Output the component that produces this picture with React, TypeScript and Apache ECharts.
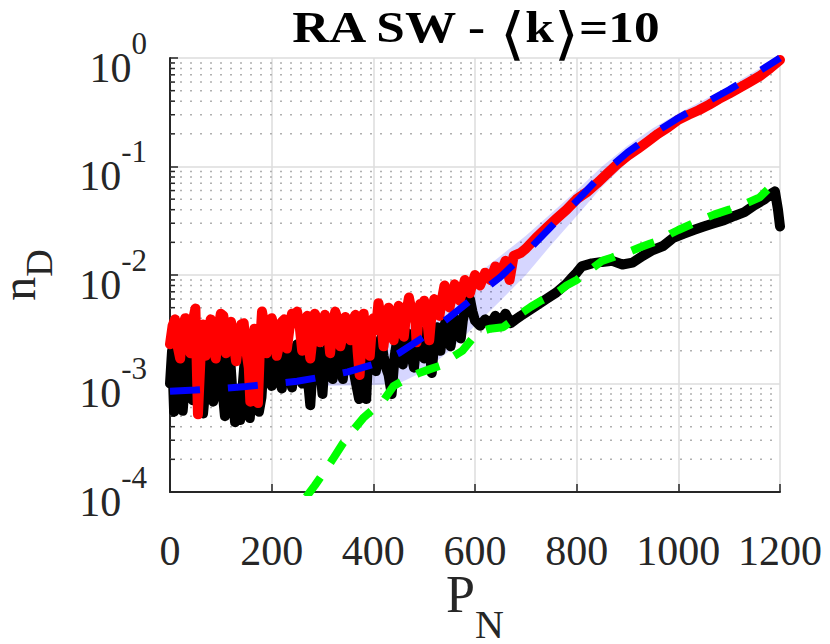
import React, { useEffect, useRef } from "react";
import * as echarts from "echarts";

// ---------- axis settings ----------
const X_MIN = 0;
const X_MAX = 1200;
const X_INTERVAL = 200;
const Y_MIN = 1e-4;
const Y_MAX = 1;

// minor log levels (2..9 x 10^k) for dotted grid lines and minor ticks
const minorLevels = [
  2e-4, 3e-4, 4e-4, 5e-4, 6e-4, 7e-4, 8e-4, 9e-4,
  2e-3, 3e-3, 4e-3, 5e-3, 6e-3, 7e-3, 8e-3, 9e-3,
  2e-2, 3e-2, 4e-2, 5e-2, 6e-2, 7e-2, 8e-2, 9e-2,
  2e-1, 3e-1, 4e-1, 5e-1, 6e-1, 7e-1, 8e-1, 9e-1,
];

// ---------- data ----------
const redSeries: [number, number][] = [
  [0, 2.3e-3], [5, 3.4e-3], [10, 3.9e-3], [15, 2.2e-3], [20, 1.7e-3], [25, 3.3e-3],
  [30, 4.0e-3], [35, 2.6e-3], [40, 1.9e-3], [45, 3.8e-3], [50, 4.9e-3], [55, 5.2e-4],
  [60, 1.7e-3], [65, 3.5e-3], [70, 1.8e-3], [75, 2.5e-3], [80, 3.9e-3], [85, 2.2e-3],
  [90, 1.7e-3], [95, 3.2e-3], [100, 4.4e-3], [105, 4.2e-3], [110, 1.9e-3], [115, 3.0e-3],
  [120, 3.7e-3], [125, 2.4e-3], [130, 1.6e-3], [135, 2.4e-3], [140, 3.5e-3], [145, 3.6e-3],
  [150, 2.0e-3], [155, 1.4e-3], [158, 6.8e-4], [162, 2.0e-3], [166, 3.2e-3], [170, 1.2e-3],
  [173, 6.6e-4], [177, 2.2e-3], [181, 4.6e-3], [185, 3.6e-3], [190, 1.9e-3], [195, 2.5e-3],
  [200, 4.0e-3], [205, 3.3e-3], [210, 1.8e-3], [215, 2.3e-3], [220, 3.7e-3], [225, 3.9e-3],
  [230, 2.1e-3], [235, 3.2e-3], [240, 4.4e-3], [245, 3.6e-3], [250, 4.6e-3], [255, 3.4e-3],
  [260, 2.0e-3], [265, 3.3e-3], [270, 4.2e-3], [273, 2.2e-3], [276, 1.7e-3], [280, 2.5e-3],
  [285, 4.4e-3], [290, 3.8e-3], [295, 2.4e-3], [300, 3.6e-3], [305, 4.3e-3], [310, 3.3e-3],
  [315, 1.9e-3], [320, 3.4e-3], [325, 4.6e-3], [330, 3.9e-3], [335, 2.2e-3], [340, 2.8e-3],
  [345, 4.1e-3], [350, 3.6e-3], [355, 2.5e-3], [360, 3.9e-3], [365, 4.3e-3], [369, 2.0e-3],
  [373, 1.2e-3], [377, 2.8e-3], [381, 4.4e-3], [386, 2.1e-3], [390, 3.4e-3], [393, 1.8e-3],
  [397, 3.2e-3], [400, 4.0e-3], [405, 3.1e-3], [410, 5.5e-3], [415, 4.0e-3], [420, 2.2e-3],
  [425, 3.6e-3], [430, 5.0e-3], [435, 4.1e-3], [440, 2.5e-3], [445, 4.2e-3], [450, 5.2e-3],
  [455, 4.4e-3], [460, 2.7e-3], [465, 4.5e-3], [470, 6.2e-3], [474, 5.0e-3], [478, 4.0e-3],
  [482, 4.6e-3], [485, 2.4e-3], [489, 4.2e-3], [492, 5.4e-3], [496, 4.6e-3], [500, 5.8e-3],
  [505, 4.4e-3], [510, 2.5e-3], [515, 4.6e-3], [520, 6.0e-3], [525, 5.4e-3], [530, 4.2e-3],
  [535, 6.0e-3], [540, 8.0e-3], [545, 6.4e-3], [550, 5.0e-3], [555, 6.6e-3], [560, 8.2e-3],
  [565, 7.0e-3], [570, 5.8e-3], [575, 7.2e-3], [580, 9.0e-3], [585, 8.0e-3], [590, 6.8e-3],
  [595, 8.4e-3], [600, 1.0e-2], [610, 8.0e-3], [620, 1.05e-2], [630, 9.0e-3], [640, 1.2e-2],
  [650, 1.05e-2], [660, 1.35e-2], [668, 9.0e-3], [676, 1.5e-2], [690, 1.6e-2], [700, 1.75e-2],
  [720, 2.2e-2], [740, 2.7e-2], [760, 3.3e-2], [780, 4.0e-2], [800, 5.0e-2], [820, 5.8e-2],
  [840, 7.0e-2], [860, 8.6e-2], [880, 0.105], [900, 0.125], [920, 0.145], [940, 0.17],
  [960, 0.2], [980, 0.23], [1000, 0.27], [1020, 0.3], [1040, 0.33], [1060, 0.37],
  [1080, 0.42], [1100, 0.47], [1120, 0.53], [1140, 0.6], [1160, 0.68], [1180, 0.8], [1200, 0.96],
];

const blackSeries: [number, number][] = [
  [0, 1.0e-3], [4, 2.0e-3], [8, 5.5e-4], [12, 9.0e-4], [15, 1.9e-3], [20, 9.5e-4],
  [25, 5.6e-4], [30, 1.1e-3], [35, 2.1e-3], [40, 1.1e-3], [45, 7.0e-4], [50, 1.0e-3],
  [55, 1.8e-3], [60, 9.0e-4], [65, 5.3e-4], [70, 9.5e-4], [75, 2.0e-3], [80, 1.0e-3],
  [85, 6.8e-4], [90, 8.5e-4], [95, 1.9e-3], [98, 2.2e-3], [103, 9.0e-4], [108, 5.0e-4],
  [113, 9.0e-4], [118, 1.8e-3], [123, 8.0e-4], [128, 4.4e-4], [133, 7.0e-4], [138, 4.6e-4],
  [143, 9.5e-4], [148, 1.9e-3], [152, 8.0e-4], [157, 4.8e-4], [162, 1.0e-3], [166, 2.1e-3],
  [171, 9.5e-4], [175, 5.5e-4], [180, 7.5e-4], [185, 1.8e-3], [190, 2.2e-3], [195, 1.4e-3],
  [200, 9.5e-4], [205, 1.9e-3], [210, 2.1e-3], [215, 1.1e-3], [220, 9.0e-4], [225, 1.9e-3],
  [230, 2.2e-3], [235, 1.4e-3], [240, 9.2e-4], [245, 1.9e-3], [250, 2.3e-3], [255, 1.5e-3],
  [260, 1.0e-3], [264, 2.0e-3], [268, 2.2e-3], [272, 1.0e-3], [276, 6.3e-4], [282, 1.8e-3],
  [288, 2.3e-3], [294, 1.6e-3], [300, 8.0e-4], [305, 1.8e-3], [310, 2.2e-3], [315, 1.6e-3],
  [320, 1.1e-3], [325, 2.1e-3], [330, 2.4e-3], [335, 1.7e-3], [340, 1.1e-3], [345, 2.1e-3],
  [350, 2.5e-3], [355, 1.8e-3], [360, 1.4e-3], [366, 1.0e-3], [372, 7.2e-4], [376, 1.9e-3],
  [380, 2.4e-3], [383, 1.2e-3], [386, 7.2e-4], [390, 1.9e-3], [395, 2.5e-3], [400, 2.1e-3],
  [405, 1.3e-3], [410, 2.1e-3], [415, 2.6e-3], [420, 1.8e-3], [425, 1.4e-3], [430, 1.2e-3],
  [436, 8.0e-4], [442, 1.8e-3], [448, 2.7e-3], [453, 1.8e-3], [458, 1.5e-3], [463, 2.4e-3],
  [468, 2.9e-3], [474, 1.9e-3], [480, 1.4e-3], [485, 2.4e-3], [490, 3.1e-3], [495, 2.1e-3],
  [500, 1.7e-3], [504, 2.7e-3], [508, 3.3e-3], [512, 1.8e-3], [515, 1.25e-3], [520, 2.5e-3],
  [525, 3.3e-3], [528, 2.3e-3], [532, 2.0e-3], [537, 3.1e-3], [542, 3.7e-3], [547, 2.6e-3],
  [552, 2.2e-3], [557, 3.3e-3], [562, 3.9e-3], [567, 3.0e-3], [572, 2.6e-3], [576, 3.8e-3],
  [580, 4.7e-3], [585, 5.3e-3], [590, 6.0e-3], [595, 4.6e-3], [600, 3.8e-3], [610, 3.4e-3],
  [620, 3.9e-3], [630, 3.5e-3], [640, 4.2e-3], [650, 3.7e-3], [660, 4.4e-3], [670, 3.6e-3],
  [680, 3.9e-3], [690, 4.2e-3], [700, 4.5e-3], [720, 5.2e-3], [740, 6.0e-3], [760, 6.9e-3],
  [780, 8.3e-3], [790, 9.4e-3], [800, 1.05e-2], [810, 1.2e-2], [830, 1.28e-2], [850, 1.32e-2],
  [870, 1.35e-2], [890, 1.25e-2], [910, 1.3e-2], [930, 1.5e-2], [950, 1.7e-2], [970, 1.85e-2],
  [990, 2.2e-2], [1010, 2.4e-2], [1030, 2.6e-2], [1050, 2.8e-2], [1070, 3.0e-2], [1090, 3.2e-2],
  [1110, 3.5e-2], [1130, 3.8e-2], [1150, 4.4e-2], [1170, 5.0e-2], [1185, 5.7e-2], [1190, 5.9e-2],
  [1196, 4.0e-2], [1200, 2.8e-2],
];

const meanFit: [number, number][] = [
  [0, 8.5e-4], [50, 8.7e-4], [100, 9.0e-4], [150, 9.4e-4], [200, 9.9e-4], [250, 1.05e-3],
  [300, 1.15e-3], [350, 1.28e-3], [400, 1.5e-3], [450, 1.9e-3], [500, 2.7e-3], [550, 4.1e-3],
  [600, 6.3e-3], [650, 9.6e-3], [700, 1.6e-2], [750, 2.8e-2], [800, 4.8e-2], [850, 8.5e-2],
  [900, 0.135], [950, 0.2], [1000, 0.28], [1050, 0.38], [1100, 0.51], [1150, 0.71], [1200, 1.0],
];

const greenSeries: [number, number][] = [
  [268, 9.0e-5], [285, 1.15e-4], [300, 1.45e-4], [320, 2.0e-4], [340, 2.8e-4], [360, 3.7e-4],
  [380, 4.8e-4], [400, 5.8e-4], [420, 7.0e-4], [440, 9.5e-4], [465, 1.1e-3], [490, 1.25e-3],
  [510, 1.35e-3], [530, 1.45e-3], [555, 1.75e-3], [575, 2.0e-3], [595, 2.6e-3], [610, 3.0e-3],
  [630, 3.2e-3], [655, 3.3e-3], [670, 3.7e-3], [690, 4.4e-3], [710, 5.1e-3], [730, 5.8e-3],
  [760, 6.8e-3], [780, 8.0e-3], [800, 9.0e-3], [825, 1.1e-2], [850, 1.35e-2], [870, 1.45e-2],
  [885, 1.55e-2], [905, 1.65e-2], [925, 1.8e-2], [945, 1.95e-2], [965, 2.1e-2], [985, 2.4e-2],
  [1000, 2.6e-2], [1030, 3.0e-2], [1050, 3.3e-2], [1070, 3.6e-2], [1100, 4.0e-2], [1130, 4.5e-2],
  [1160, 5.2e-2], [1180, 6.4e-2], [1200, 7.6e-2],
];

const bandX = [290, 350, 400, 450, 500, 550, 600, 650, 700, 750, 800, 850, 900, 950, 1000, 1050, 1100, 1150, 1200];
const bandLow = [9.5e-4, 9.6e-4, 9.7e-4, 1.0e-3, 1.3e-3, 2.0e-3, 3.4e-3, 5.8e-3, 1.0e-2, 1.9e-2, 3.5e-2, 6.5e-2, 0.11, 0.17, 0.245, 0.34, 0.47, 0.67, 0.96];
const bandHigh = [1.45e-3, 1.7e-3, 2.1e-3, 2.9e-3, 4.2e-3, 6.3e-3, 9.8e-3, 1.5e-2, 2.3e-2, 3.7e-2, 6.0e-2, 0.1, 0.155, 0.225, 0.31, 0.41, 0.55, 0.75, 1.03];

// ---------- styles ----------
const SERIF = "'Liberation Serif', 'Times New Roman', serif";
const AXIS_COLOR = "#262626";

export default function App() {
  const ref = useRef<HTMLDivElement>(null);

  useEffect(() => {
    if (!ref.current) return;
    const chart = echarts.init(ref.current, undefined, { renderer: "svg" });

    const option: any = {
      animation: false,
      backgroundColor: "#ffffff",
      grid: { left: 170, right: 50, top: 58, bottom: 152, containLabel: false, outerBoundsMode: "none" },
      graphic: [
        {
          type: "text",
          x: 475,
          y: 4,
          scaleX: 1.14,
          z: 100,
          style: {
            text: "{t|RA SW - }{b|⟨}{t|k}{b|⟩}{t|=10}",
            align: "center",
            verticalAlign: "top",
            fill: "#000000",
            rich: {
              t: { fontFamily: SERIF, fontWeight: "bold", fontSize: 45, lineHeight: 28, fill: "#000", verticalAlign: "top" },
              b: { fontFamily: "'DejaVu Sans', 'Noto Sans', sans-serif", fontWeight: "normal", fontSize: 57, lineHeight: 58, fill: "#000", verticalAlign: "top" },
            },
          },
        },
      ],
      xAxis: {
        type: "value",
        min: X_MIN,
        max: X_MAX,
        interval: X_INTERVAL,
        name: "{m|P}{s|N}",
        nameLocation: "middle",
        nameGap: 116,
        nameMoveOverlap: false,
        nameTextStyle: {
          rich: {
            m: { fontFamily: SERIF, fontSize: 52, lineHeight: 36, color: AXIS_COLOR, verticalAlign: "bottom", padding: [0, 0, 24, 0] },
            s: { fontFamily: SERIF, fontSize: 40, lineHeight: 30, color: AXIS_COLOR, verticalAlign: "bottom" },
          },
        },
        axisLine: { show: true, onZero: false, lineStyle: { color: AXIS_COLOR, width: 2 } },
        axisTick: { show: true, inside: true, length: 8, lineStyle: { color: AXIS_COLOR, width: 1.5 } },
        axisLabel: {
          fontFamily: SERIF,
          fontSize: 42,
          color: AXIS_COLOR,
          margin: 38,
          showMinLabel: true,
          showMaxLabel: true,
          hideOverlap: false,
          formatter: (v: number) => String(v),
        },
        splitLine: { show: true, lineStyle: { color: "#dcdcdc", width: 1.5 } },
      },
      yAxis: {
        type: "log",
        logBase: 10,
        min: Y_MIN,
        max: Y_MAX,
        name: "{m|n}{s|D}",
        nameLocation: "middle",
        nameRotate: 90,
        nameGap: 112,
        nameMoveOverlap: false,
        nameTextStyle: {
          rich: {
            m: { fontFamily: SERIF, fontSize: 48, lineHeight: 22, color: AXIS_COLOR, verticalAlign: "bottom", padding: [14, 0, 16, 0] },
            s: { fontFamily: SERIF, fontSize: 38, lineHeight: 30, color: AXIS_COLOR, verticalAlign: "bottom" },
          },
        },
        axisLine: { show: true, lineStyle: { color: AXIS_COLOR, width: 2 } },
        axisTick: { show: true, inside: true, length: 8, lineStyle: { color: AXIS_COLOR, width: 1.5 } },
        axisLabel: {
          margin: 23,
          padding: [0, 0, 0, 0],
          showMinLabel: true,
          showMaxLabel: true,
          formatter: (v: number) => {
            const e = Math.round(Math.log10(v));
            return "{b|10}{s|" + e + "}";
          },
          rich: {
            b: { fontFamily: SERIF, fontSize: 42, color: AXIS_COLOR, verticalAlign: "bottom" },
            s: { fontFamily: SERIF, fontSize: 31, color: AXIS_COLOR, verticalAlign: "bottom", padding: [0, 0, 30, 0] },
          },
        },
        splitLine: { show: true, lineStyle: { color: "#dcdcdc", width: 1.5 } },
      },
      series: [
        {
          name: "minor grid",
          type: "custom",
          coordinateSystem: "cartesian2d",
          silent: true,
          clip: false,
          z: 1,
          data: minorLevels.map((v) => [X_MIN, v]),
          encode: { x: 0, y: 1 },
          renderItem: (_params: any, api: any) => {
            const v = api.value(1);
            const p0 = api.coord([X_MIN, v]);
            const p1 = api.coord([X_MAX, v]);
            return {
              type: "group",
              children: [
                {
                  type: "line",
                  shape: { x1: p0[0], y1: p0[1], x2: p1[0], y2: p1[1] },
                  style: { stroke: "#b0b0b0", lineWidth: 1.5, lineDash: [2, 8] },
                },
                {
                  type: "line",
                  shape: { x1: p0[0], y1: p0[1], x2: p0[0] + 5, y2: p0[1] },
                  style: { stroke: AXIS_COLOR, lineWidth: 1.5 },
                },
              ],
            };
          },
        },
        {
          name: "lower",
          type: "line",
          data: blackSeries,
          symbol: "none",
          showSymbol: false,
          clip: true,
          lineStyle: { color: "#000000", width: 10, cap: "round", join: "round" },
        },
        {
          name: "upper",
          type: "line",
          data: redSeries,
          symbol: "none",
          showSymbol: false,
          clip: true,
          lineStyle: { color: "#ff0000", width: 10, cap: "round", join: "round" },
        },
        {
          name: "band",
          type: "custom",
          coordinateSystem: "cartesian2d",
          silent: true,
          clip: true,
          data: [[bandX[0], bandLow[0]]],
          encode: { x: 0, y: 1 },
          renderItem: (_params: any, api: any) => {
            const pts: number[][] = [];
            for (let i = 0; i < bandX.length; i++) pts.push(api.coord([bandX[i], bandHigh[i]]));
            for (let i = bandX.length - 1; i >= 0; i--) pts.push(api.coord([bandX[i], bandLow[i]]));
            return {
              type: "polygon",
              shape: { points: pts },
              style: { fill: "rgba(0,0,255,0.16)" },
            };
          },
        },
        {
          name: "fit",
          type: "line",
          data: meanFit,
          symbol: "none",
          showSymbol: false,
          clip: true,
          lineStyle: { color: "#0000ff", width: 7, type: [30, 28], cap: "butt" },
        },
        {
          name: "model",
          type: "line",
          data: greenSeries,
          symbol: "none",
          showSymbol: false,
          clip: true,
          lineStyle: { color: "#00ff00", width: 8, type: [24, 18], cap: "butt" },
        },
      ],
    };

    chart.setOption(option);
    return () => chart.dispose();
  }, []);

  return (
    <div
      ref={ref}
      style={{ position: "fixed", left: 0, top: 0, width: 830, height: 644, background: "#fff" }}
    />
  );
}
